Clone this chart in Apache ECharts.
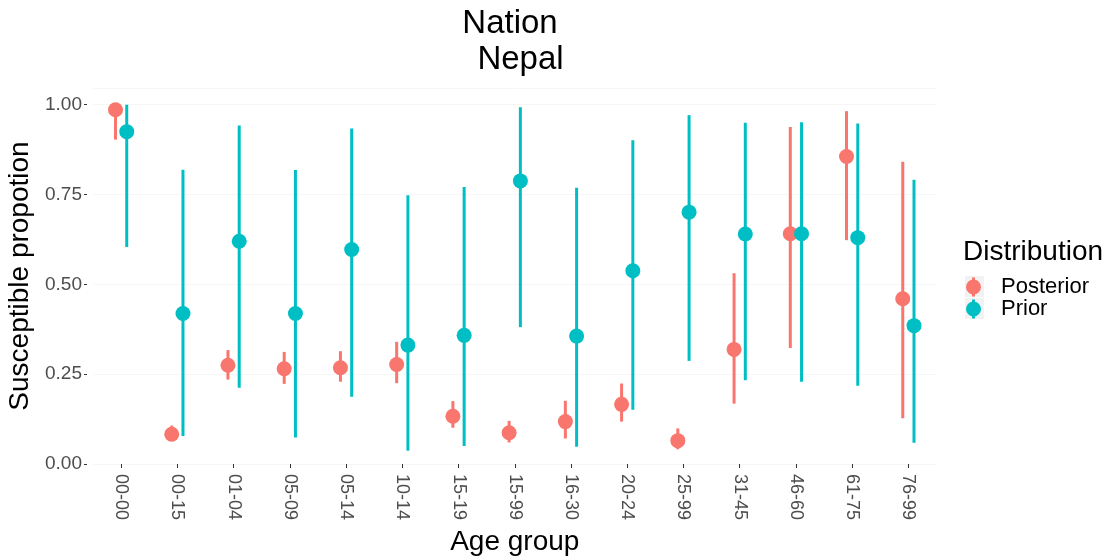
<!DOCTYPE html>
<html>
<head>
<meta charset="utf-8">
<script src="https://cdn.jsdelivr.net/npm/echarts@6/dist/echarts.min.js"></script>
<style>
html,body{margin:0;padding:0;background:#fff;}
#chart{width:1114px;height:556px;}
</style>
</head>
<body>
<div id="chart"></div>
<script>
// ---- data ----
var categories = ['00-00','00-15','01-04','05-09','05-14','10-14','15-19','15-99','16-30','20-24','25-99','31-45','46-60','61-75','76-99'];

var posteriorMid = [0.986,0.083,0.275,0.265,0.268,0.277,0.133,0.087,0.118,0.166,0.065,0.319,0.641,0.856,0.460];
var posteriorLow = [0.903,0.066,0.235,0.223,0.229,0.225,0.101,0.060,0.071,0.118,0.041,0.168,0.323,0.623,0.127];
var posteriorHigh = [1.000,0.107,0.317,0.312,0.314,0.340,0.175,0.120,0.176,0.224,0.099,0.531,0.938,0.982,0.841];

var priorMid = [0.925,0.419,0.620,0.419,0.597,0.331,0.358,0.788,0.356,0.538,0.701,0.640,0.641,0.630,0.385];
var priorLow = [0.604,0.078,0.212,0.074,0.187,0.037,0.050,0.381,0.048,0.151,0.287,0.233,0.229,0.218,0.059];
var priorHigh = [1.000,0.819,0.942,0.818,0.934,0.748,0.771,0.993,0.769,0.901,0.971,0.950,0.951,0.948,0.791];

var yTicks = [0, 0.25, 0.5, 0.75, 1.0];

// ---- build ----
var FONT = 'Liberation Sans, Arial, sans-serif';
var RED = '#F8766D', TEAL = '#00BFC4';

function rows(mid, lo, hi) {
  return categories.map(function (c, i) { return [i, mid[i], lo[i], hi[i]]; });
}

function makeRender(offset, color) {
  return function (params, api) {
    var xi = api.value(0);
    var pm = api.coord([xi, api.value(1)]);
    var pl = api.coord([xi, api.value(2)]);
    var ph = api.coord([xi, api.value(3)]);
    var bw = api.size([1, 0])[0];
    var x = pm[0] + offset * bw;
    return {
      type: 'group',
      children: [
        { type: 'line', shape: { x1: x, y1: pl[1], x2: x, y2: ph[1] }, style: { stroke: color, lineWidth: 3 } },
        { type: 'circle', shape: { cx: x, cy: pm[1], r: 7.5 }, style: { fill: color } }
      ]
    };
  };
}

var chart = echarts.init(document.getElementById('chart'), null, { renderer: 'canvas' });

var icon = 'path://M-1.5,-9.5h3v19h-3z M-7.5,0a7.5,7.5 0 1,1 15,0a7.5,7.5 0 1,1 -15,0z';

chart.setOption({
  animation: false,
  backgroundColor: '#ffffff',
  textStyle: { fontFamily: FONT },
  grid: { left: 93, right: 177.5, top: 88, bottom: 92, outerBoundsMode: 'none', containLabel: false },
  xAxis: {
    type: 'category',
    data: categories,
    offset: 4,
    axisLine: { show: false },
    axisTick: { show: true, alignWithLabel: true, length: 4, lineStyle: { color: '#333333', width: 1 } },
    axisLabel: { rotate: -90, margin: 6, fontSize: 18, color: '#4d4d4d', fontFamily: FONT },
    splitLine: { show: false },
    name: 'Age group',
    nameLocation: 'middle',
    nameGap: 56,
    nameTextStyle: { fontSize: 28, color: '#000', fontFamily: FONT }
  },
  yAxis: {
    type: 'value',
    min: 0,
    max: 1.0465,
    interval: 0.25,
    offset: 6,
    axisLine: { show: false },
    axisTick: { show: true, length: 3, lineStyle: { color: '#333333', width: 1 } },
    axisLabel: {
      showMaxLabel: false,
      margin: 5, fontSize: 19, color: '#4d4d4d', fontFamily: FONT,
      formatter: function (v) { return yTicks.indexOf(v) >= 0 ? v.toFixed(2) : ''; }
    },
    splitLine: { show: true, lineStyle: { color: '#f6f6f6', width: 1 } },
    name: 'Susceptible propotion',
    nameLocation: 'middle',
    nameRotate: 90,
    nameGap: 50,
    nameTextStyle: { fontSize: 28, color: '#000', fontFamily: FONT }
  },
  legend: {
    data: ['Posterior', 'Prior'],
    orient: 'vertical',
    left: 966,
    top: 276,
    padding: 0,
    itemGap: 0,
    itemWidth: 15,
    itemHeight: 19,
    icon: icon,
    selectedMode: false,
    textStyle: { fontSize: 22, color: '#000', fontFamily: FONT, lineHeight: 22, padding: [0, 0, 0, 15] }
  },
  graphic: [
    { type: 'text', x: 510, y: 24, z: 10,
      style: { text: 'Nation', font: '33px ' + FONT, fill: '#000', align: 'center', verticalAlign: 'middle' } },
    { type: 'text', x: 520.5, y: 60, z: 10,
      style: { text: 'Nepal', font: '33px ' + FONT, fill: '#000', align: 'center', verticalAlign: 'middle' } },
    { type: 'text', x: 963, y: 252, z: 10,
      style: { text: 'Distribution', font: '28px ' + FONT, fill: '#000', align: 'left', verticalAlign: 'middle' } },
    { type: 'rect', x: 965, y: 276, z: 0, shape: { width: 19, height: 21 }, style: { fill: '#f2f2f2' } },
    { type: 'rect', x: 965, y: 298, z: 0, shape: { width: 19, height: 21 }, style: { fill: '#f2f2f2' } }
  ],
  series: [
    {
      name: 'Posterior',
      type: 'custom',
      itemStyle: { color: RED },
      renderItem: makeRender(-0.1, RED),
      encode: { x: 0, y: [1, 2, 3] },
      data: rows(posteriorMid, posteriorLow, posteriorHigh),
      z: 3
    },
    {
      name: 'Prior',
      type: 'custom',
      itemStyle: { color: TEAL },
      renderItem: makeRender(0.1, TEAL),
      encode: { x: 0, y: [1, 2, 3] },
      data: rows(priorMid, priorLow, priorHigh),
      z: 3
    }
  ]
});
</script>
</body>
</html>
